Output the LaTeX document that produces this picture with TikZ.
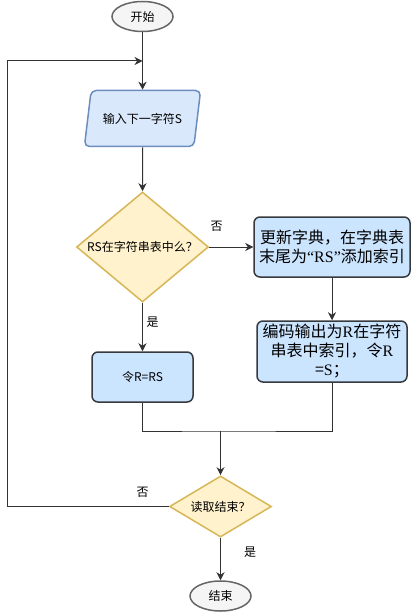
\documentclass[tikz,border=0pt]{standalone}
\usepackage{fontspec}
\setmainfont{Noto Sans CJK SC}
\newfontfamily\latinserif{Liberation Serif}
\usetikzlibrary{shapes.geometric,arrows.meta}
\definecolor{termfill}{HTML}{F5F5F5}
\definecolor{termline}{HTML}{666666}
\definecolor{iofill}{HTML}{DAE8FC}
\definecolor{ioline}{HTML}{6C8EBF}
\definecolor{askfill}{HTML}{FFF2CC}
\definecolor{askline}{HTML}{D6B656}
\definecolor{boxfill}{HTML}{CCE5FF}
\definecolor{boxline}{HTML}{36393D}
\definecolor{wire}{HTML}{333333}
\begin{document}
\begin{tikzpicture}[x=1pt,y=-1pt,
term/.style={ellipse,draw=termline,fill=termfill,line width=1.5pt,minimum width=61pt,minimum height=30pt,inner sep=0pt,font=\fontsize{12}{14}\selectfont},
io/.style={trapezium,trapezium left angle=65,trapezium right angle=115,trapezium stretches=true,draw=ioline,fill=iofill,line width=1.5pt,rounded corners=5pt,minimum width=117pt,minimum height=56pt,inner sep=0pt,font=\fontsize{12}{14}\selectfont},
ask/.style={diamond,draw=askline,fill=askfill,line width=1.5pt,inner sep=0pt,aspect=1.2,font=\fontsize{12}{14}\selectfont},
box/.style={rectangle,draw=boxline,fill=boxfill,line width=1.5pt,rounded corners=6pt,align=center,inner sep=2pt},
wire/.style={draw=wire,line width=1pt},
arrow/.style={wire,-{Stealth[length=8pt,width=8pt,inset=2.5pt]}},
lbl/.style={font=\fontsize{12}{14}\selectfont}]
\useasboundingbox (0,0) rectangle (412,612);
\node [term] (0) at (142.5,16.5) {开始};
\node [io] (1) at (142.5,118.5) {输入下一字符S};
\node [ask,minimum width=132pt,minimum height=110pt] (2) at (142.5,247) {RS在字符串表中么？};
\node [box,minimum width=156pt,minimum height=60pt,font=\fontsize{16}{19}\selectfont] (3) at (332,247) {更新字典，在字典表\\末尾为{\latinserif “RS”}添加索引};
\node [box,minimum width=150pt,minimum height=61pt,font=\fontsize{16}{19}\selectfont] (4) at (332,351.5) {编码输出为{\latinserif R}在字符\\串表中索引，令{\latinserif R}\\={\latinserif S}；};
\node [box,minimum width=101pt,minimum height=50pt,font=\fontsize{12}{14}\selectfont] (5) at (142.5,377) {令R=RS};
\node [ask,minimum width=102pt,minimum height=61pt] (6) at (220.5,506.5) {读取结束？};
\node [term] (7) at (220.5,596) {结束};
\coordinate (8) at (142.5,61);
\coordinate (9) at (7.5,61);
\coordinate (10) at (220.5,431);
% flow
\draw [arrow] (0) -- (1);
\draw [arrow] (1) -- (2);
\draw [arrow] (2) -- (3);
\draw [arrow] (3) -- (4);
\draw [arrow] (2) -- (5);
\draw [wire] (5.south) |- (10) -| (4.south);
\draw [arrow] (10) -- (6);
\draw [arrow] (6) -- (7);
\draw [arrow] (6.west) -| (9) -- (8);
\node [lbl] (11) at (216.5,226) {否};
\node [lbl] (12) at (152.5,322) {是};
\node [lbl] (13) at (142.5,492) {否};
\node [lbl] (14) at (250,552) {是};
\end{tikzpicture}
\end{document}
